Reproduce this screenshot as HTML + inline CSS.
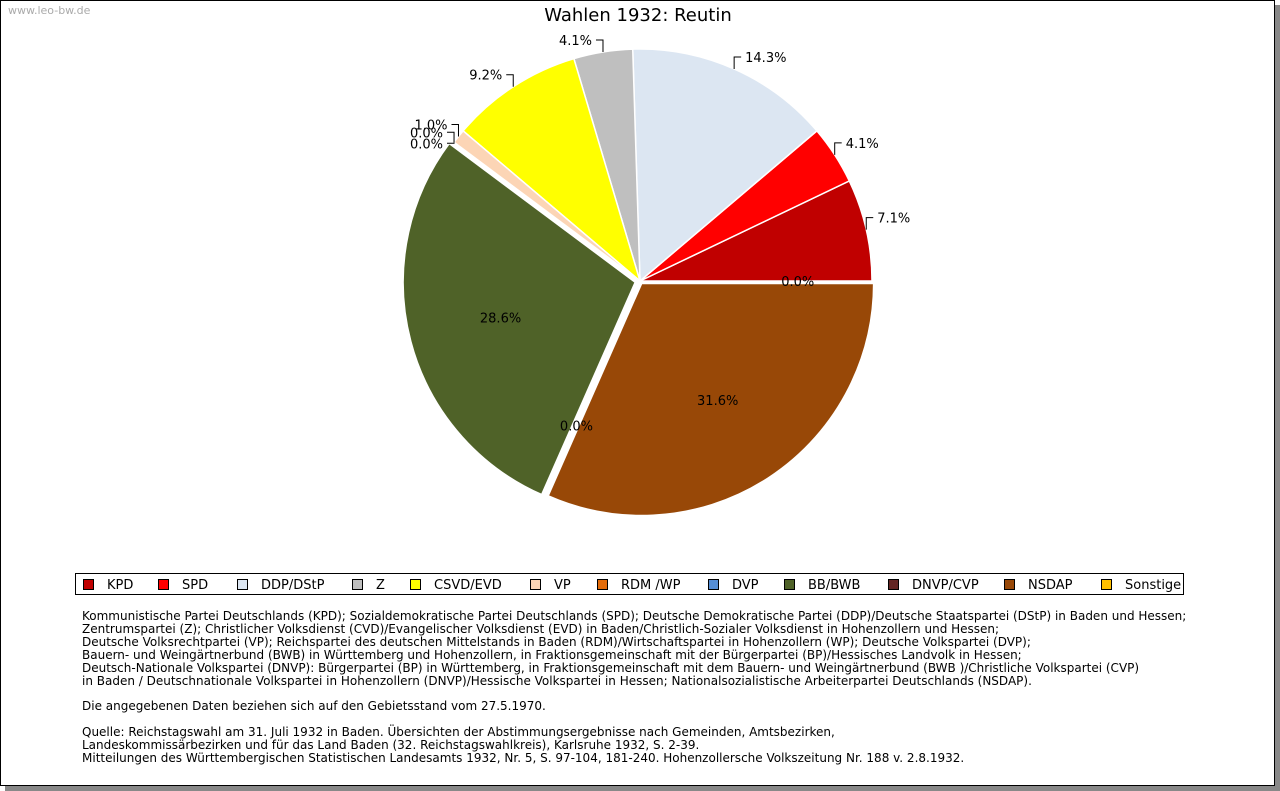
<!DOCTYPE html>
<html><head><meta charset="utf-8"><style>
body{margin:0;width:1280px;height:791px;background:#fff;overflow:hidden;font-family:"DejaVu Sans","Liberation Sans",sans-serif}
#frame{position:absolute;left:0;top:0;width:1273px;height:784px;border:1px solid #000;background:#fff;box-shadow:5px 5px 0 #888}
#wm{position:absolute;left:8px;top:4px;font-size:11px;color:#aaa}
#notes{position:absolute;left:82px;top:610px;font-size:12px;line-height:12.9px;color:#000;white-space:pre}
</style></head><body>
<div id="frame"></div>
<div id="wm">www.leo-bw.de</div>
<svg id="chart" width="1280" height="791" style="position:absolute;left:0;top:0">
<g id="slices"></g><g id="labels"></g>
<text x="638" y="21" text-anchor="middle" font-size="18">Wahlen 1932: Reutin</text>
<rect x="75.5" y="573.5" width="1108" height="21" fill="#fff" stroke="#000"/>
<g id="legend"></g>
</svg>
<div id="notes">Kommunistische Partei Deutschlands (KPD); Sozialdemokratische Partei Deutschlands (SPD); Deutsche Demokratische Partei (DDP)/Deutsche Staatspartei (DStP) in Baden und Hessen;
Zentrumspartei (Z); Christlicher Volksdienst (CVD)/Evangelischer Volksdienst (EVD) in Baden/Christlich-Sozialer Volksdienst in Hohenzollern und Hessen;
Deutsche Volksrechtpartei (VP); Reichspartei des deutschen Mittelstands in Baden (RDM)/Wirtschaftspartei in Hohenzollern (WP); Deutsche Volkspartei (DVP);
Bauern- und Weingärtnerbund (BWB) in Württemberg und Hohenzollern, in Fraktionsgemeinschaft mit der Bürgerpartei (BP)/Hessisches Landvolk in Hessen;
Deutsch-Nationale Volkspartei (DNVP): Bürgerpartei (BP) in Württemberg, in Fraktionsgemeinschaft mit dem Bauern- und Weingärtnerbund (BWB )/Christliche Volkspartei (CVP)
in Baden / Deutschnationale Volkspartei in Hohenzollern (DNVP)/Hessische Volkspartei in Hessen; Nationalsozialistische Arbeiterpartei Deutschlands (NSDAP).

Die angegebenen Daten beziehen sich auf den Gebietsstand vom 27.5.1970.

Quelle: Reichstagswahl am 31. Juli 1932 in Baden. Übersichten der Abstimmungsergebnisse nach Gemeinden, Amtsbezirken,
Landeskommissärbezirken und für das Land Baden (32. Reichstagswahlkreis), Karlsruhe 1932, S. 2-39.
Mitteilungen des Württembergischen Statistischen Landesamts 1932, Nr. 5, S. 97-104, 181-240. Hohenzollersche Volkszeitung Nr. 188 v. 2.8.1932.</div>
<script>
const parties=["KPD","SPD","DDP/DStP","Z","CSVD/EVD","VP","RDM /WP","DVP","BB/BWB","DNVP/CVP","NSDAP","Sonstige"];
const shares=[7.1,4.1,14.3,4.1,9.2,1.0,0.0,0.0,28.6,0.0,31.6,0.0];
const colors=["#c00000","#ff0000","#dce6f2","#bfbfbf","#ffff00","#fcd5b5","#e46c0a","#558ed5","#4f6228","#632523","#984807","#ffc000"];
const explode=[0,0,0,0,0,0,0,0,5,0,3,0];
const NS="http://www.w3.org/2000/svg";
const cx=640,cy=281,R=232;
const total=shares.reduce((a,b)=>a+b,0);
function ang(v){return v/total*2*Math.PI;}
function pt(a,r,ox,oy){return [ox+r*Math.cos(a),oy-r*Math.sin(a)];}
const gS=document.getElementById('slices'),gL=document.getElementById('labels');
let cum=0;
let zeroStack=0;
shares.forEach((v,i)=>{
  const a0=ang(cum),a1=ang(cum+v),am=(a0+a1)/2;cum+=v;
  const ox=cx+explode[i]*Math.cos(am),oy=cy-explode[i]*Math.sin(am);
  if(v>0){
    const p0=pt(a0,R,ox,oy),p1=pt(a1,R,ox,oy);
    const large=(a1-a0)>Math.PI?1:0;
    const path=document.createElementNS(NS,'path');
    path.setAttribute('d',`M${ox},${oy}L${p0[0]},${p0[1]}A${R},${R} 0 ${large} 0 ${p1[0]},${p1[1]}Z`);
    path.setAttribute('fill',colors[i]);path.setAttribute('stroke','#fff');path.setAttribute('stroke-width','1.5');
    
    
    gS.appendChild(path);
  }
  const t=document.createElementNS(NS,'text');
  t.setAttribute('font-size','13');
  t.textContent=v.toFixed(1)+'%';
  const inside=v>20||(v===0&&am>Math.PI);
  if(inside){
    const p=pt(am,R*(v>20?0.6:0.68),ox,oy);
    t.setAttribute('x',p[0]);t.setAttribute('y',p[1]+5);t.setAttribute('text-anchor','middle');
  } else {
    const e=pt(am,R,ox,oy);
    const right=Math.cos(am)>=0;
    let vy=e[1]-12;
    if(v===0){vy=e[1]-10+zeroStack*11;zeroStack++;}
    const vx=e[0];
    const hx=vx+(right?7:-7);
    const ln=document.createElementNS(NS,'polyline');
    ln.setAttribute('points',`${vx},${e[1]} ${vx},${vy} ${hx},${vy}`);
    ln.setAttribute('fill','none');ln.setAttribute('stroke','#000');
    
    
    gL.appendChild(ln);
    t.setAttribute('x',hx+(right?4:-4));t.setAttribute('y',vy+5);t.setAttribute('text-anchor',right?'start':'end');
  }
  
  
  gL.appendChild(t);
});
const gG=document.getElementById('legend');
const lx=[83,158,237,352,410,530,597,708,784,888,1004,1101];
parties.forEach((p,i)=>{
  const g=document.createElementNS(NS,'g');
  
  
  const r=document.createElementNS(NS,'rect');
  r.setAttribute('x',lx[i]+0.5);r.setAttribute('y',579.5);r.setAttribute('width',10);r.setAttribute('height',10);
  r.setAttribute('fill',colors[i]);r.setAttribute('stroke','#000');
  const t=document.createElementNS(NS,'text');
  t.setAttribute('x',lx[i]+24);t.setAttribute('y',589);t.setAttribute('font-size','13');t.textContent=p;
  g.appendChild(r);g.appendChild(t);gG.appendChild(g);
});
</script>
</body></html>
